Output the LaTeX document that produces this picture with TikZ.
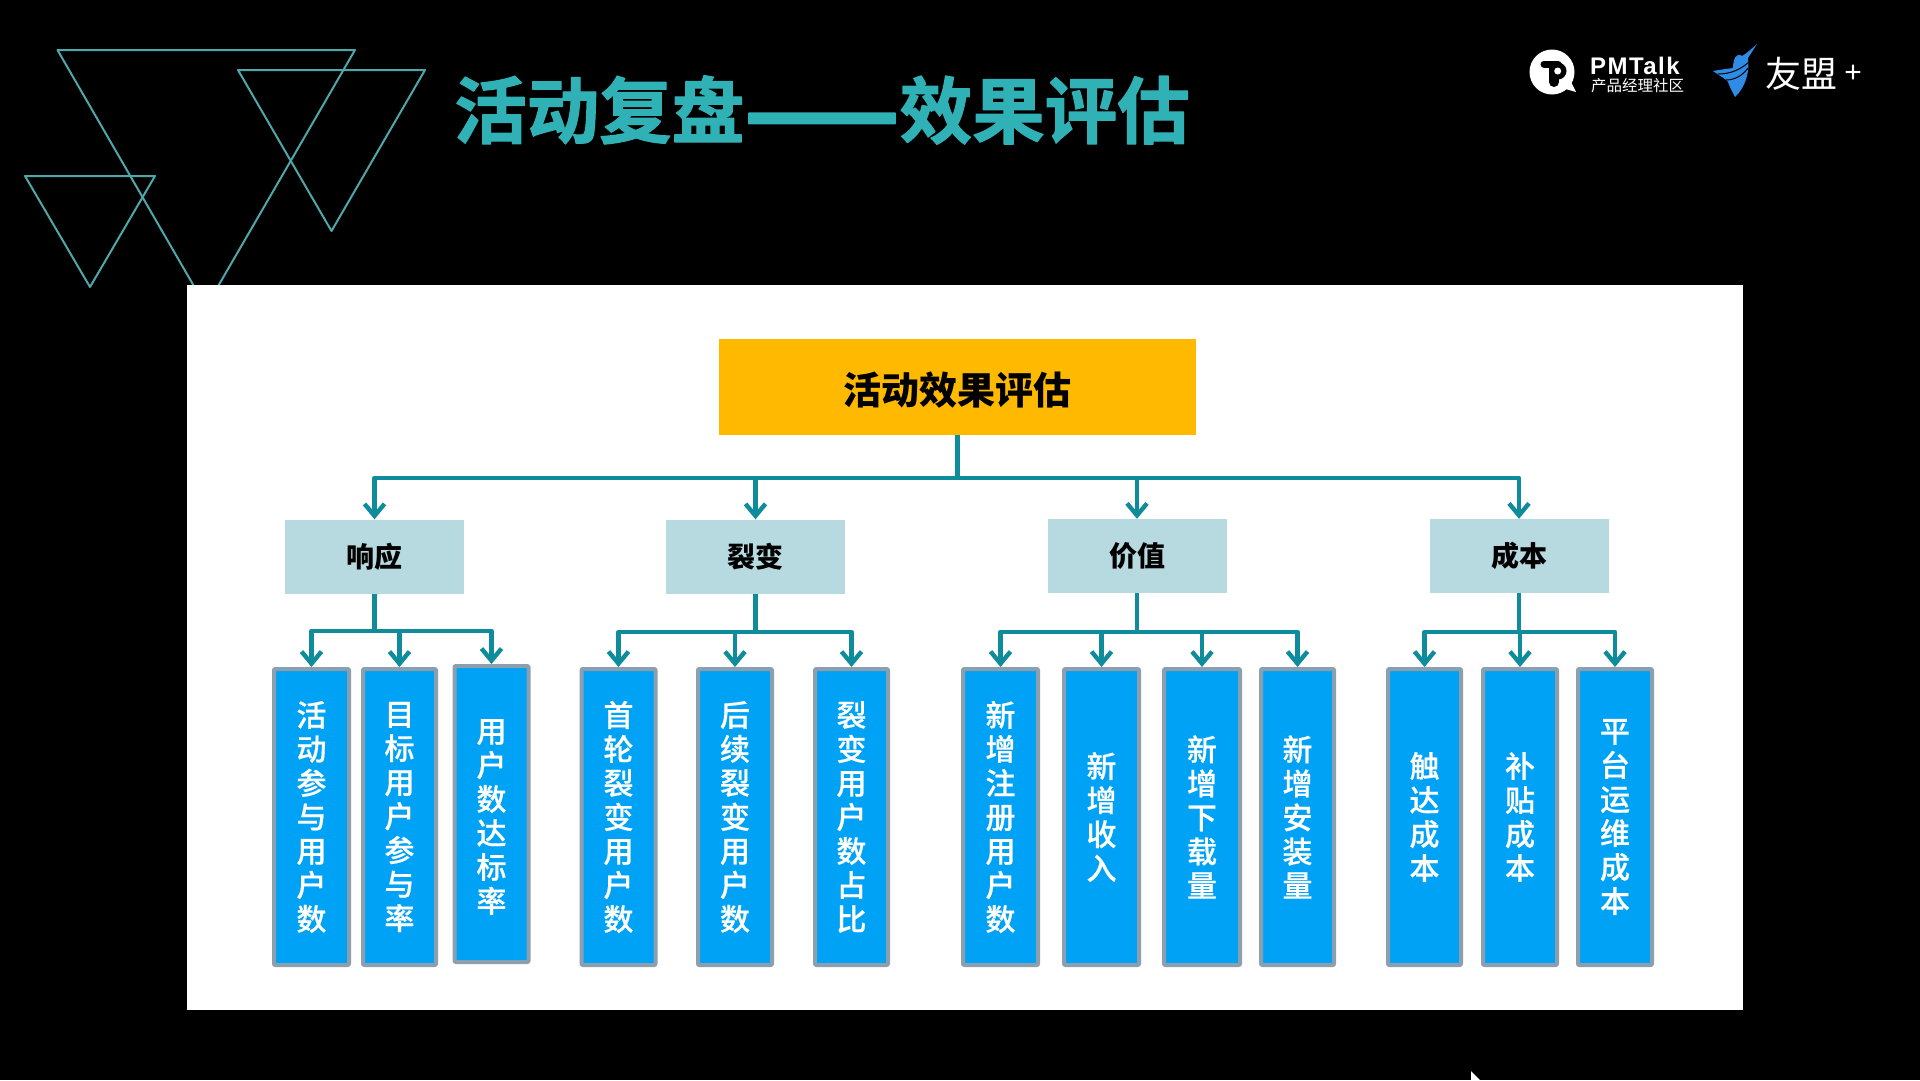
\documentclass[tikz,border=0pt]{standalone}
\usepackage{fontspec}
\setmainfont{Noto Sans CJK SC}
\newfontfamily\latinfont{Liberation Sans}
\newfontfamily\spacedfont[LetterSpace=6]{Liberation Sans}
\newfontfamily\titlefont[FakeBold=1.6]{Noto Sans CJK SC Bold}
\newfontfamily\leaffont[FakeBold=0.5]{Noto Sans CJK SC Medium}
\usetikzlibrary{arrows.meta}
\XeTeXlinebreaklocale "zh"
\XeTeXlinebreakskip=0pt plus 1pt
\newcommand{\lowertext}{\par\vspace*{-6pt}}
\definecolor{tealtitle}{HTML}{2FB1B6}
\definecolor{tealtri}{HTML}{4FA7AA}
\definecolor{teallink}{HTML}{0E8C9C}
\definecolor{rootfill}{HTML}{FFBA00}
\definecolor{groupfill}{HTML}{B7D9E0}
\definecolor{leaffill}{HTML}{00A2F5}
\definecolor{leafline}{HTML}{8C9FAE}
\definecolor{birdblue}{HTML}{2E8BE6}
\tikzset{
  tri/.style={draw=tealtri, line width=2pt},
  link/.style={draw=teallink, line width=4.4pt, -{Straight Barb[length=12pt,width=20pt]}},
  stem/.style={draw=teallink, line width=4.4pt},
  rootbox/.style={fill=rootfill, inner sep=0, minimum width=477pt, minimum height=96pt,
    text height=34pt, text depth=0pt, font=\bfseries\fontsize{38}{44}\selectfont},
  groupbox/.style={fill=groupfill, inner sep=0, minimum width=179pt, minimum height=74pt,
    font=\bfseries\fontsize{28}{32}\selectfont},
  leafbox/.style={fill=leaffill, draw=leafline, line width=4pt, rounded corners=1pt, inner sep=0,
    minimum height=296pt, text=white, text width=31pt, align=center,
    font=\leaffont\fontsize{30}{34}\selectfont},
}
\begin{document}
\begin{tikzpicture}[x=1pt, y=-1pt, line join=round]
  \useasboundingbox (0,0) rectangle (1920,1080);
  \fill[black] (0,0) rectangle (1920,1080);
  % triangles behind the panel
  \draw[tri] (57.5,50)--(355,50)--(206,307)--cycle;
  \draw[tri] (238,70)--(425,70)--(331.5,231)--cycle;
  \draw[tri] (25,176)--(155,176)--(90,287)--cycle;
  \fill[white] (187,285) rectangle (1743,1010);
  \node[text=tealtitle, font=\titlefont\fontsize{72.5}{80}\selectfont] (title) at (822,110) {活动复盘\smash{\raisebox{-12pt}{\scalebox{1.26}[1.5]{——}}}效果评估};
  % logos
  \fill[white] (1552,72) circle(22.5);
  \fill[white] (1562,88)--(1576,92)--(1570,80)--cycle;
  \draw[black, line width=7pt, line cap=round] (1544,64)--(1558,64);
  \draw[black, line width=10pt, line cap=round] (1554,68)--(1554,82);
  \fill[black] (1558,71) circle(8.5);
  \fill[white] (1557.7,71) circle(3.5);
  \node[anchor=west, inner sep=0, text=white, font=\spacedfont\bfseries\fontsize{24}{26}\selectfont] (pmtalk) at (1590,65.5) {PMTalk};
  \node[anchor=west, inner sep=0, text=white, font=\fontsize{15.5}{18}\selectfont] (pmsub) at (1591,85.5) {产品经理社区};
  \fill[birdblue] (1757,44)..controls (1750,50) and (1746,54)..(1742,56)
    ..controls (1737,52) and (1733,58)..(1733,68)..controls (1726,69) and (1718,70)..(1713,71)
    ..controls (1720,76) and (1726,79)..(1728,82)..controls (1730,88) and (1733,93)..(1735,97)
    ..controls (1745,88) and (1750,72)..(1748,58)--cycle;
  \draw[black, line width=1pt] (1718,74)..controls (1730,74) and (1740,70)..(1749,62);
  \draw[black, line width=1pt] (1726,80)..controls (1735,80) and (1743,75)..(1748,68);
  \node[anchor=west, inner sep=0, text=white, font=\fontsize{36}{38}\selectfont] (youmeng) at (1765,74) {友盟};
  \node[anchor=center, inner sep=0, text=white, font=\latinfont\fontsize{30}{32}\selectfont] (plus) at (1853,74) {+};
  % tree
  \node[rootbox] (root) at (957.5,387) {活动效果评估};
  \node[groupbox] (resp) at (374.5,556.5) {响应};
  \node[groupbox] (fiss) at (755.5,556.5) {裂变};
  \node[groupbox] (valu) at (1137,556) {价值};
  \node[groupbox] (cost) at (1519,556) {成本};
  \foreach \ten/\x/\y/\w/\chu in {
    a1/311.5/817/75/活动参与用户数, a2/399.5/817/73/目标用户参与率, a3/491.5/814/74/用户数达标率\lowertext,
    b1/618.5/817/74/首轮裂变用户数, b2/735/817/74/后续裂变用户数, b3/851.5/817/73/裂变用户数占比,
    c1/1000.5/817/75/新增注册用户数, c2/1101.5/817/75/新增收入, c3/1202/817/76/新增下载量, c4/1297.5/817/73/新增安装量,
    d1/1424.5/817/73/触达成本, d2/1520/817/74/补贴成本, d3/1615/817/74/平台运维成本}
    \node[leafbox, minimum width=\w pt] (\ten) at (\x,\y) {\chu};
  % connectors
  \coordinate (busroot) at (957.5,478);
  \coordinate (busa) at (374.5,631);
  \coordinate (busb) at (755.5,632);
  \coordinate (busc) at (1137,632);
  \coordinate (busd) at (1519,632);
  \draw[stem] (root.south)--(busroot);
  \draw[stem] (resp.south)--(busa);
  \draw[stem] (fiss.south)--(busb);
  \draw[stem] (valu.south)--(busc);
  \draw[stem] (cost.south)--(busd);
  \foreach \diem in {resp,fiss,valu,cost} \draw[link] (busroot) -| (\diem.north);
  \foreach \diem in {a1,a2,a3} \draw[link] (busa) -| (\diem.north);
  \foreach \diem in {b1,b2,b3} \draw[link] (busb) -| (\diem.north);
  \foreach \diem in {c1,c2,c3,c4} \draw[link] (busc) -| (\diem.north);
  \foreach \diem in {d1,d2,d3} \draw[link] (busd) -| (\diem.north);
  % cursor
  \fill[white] (1471,1071)--(1480,1080)--(1471,1080)--cycle;
\end{tikzpicture}
\end{document}
